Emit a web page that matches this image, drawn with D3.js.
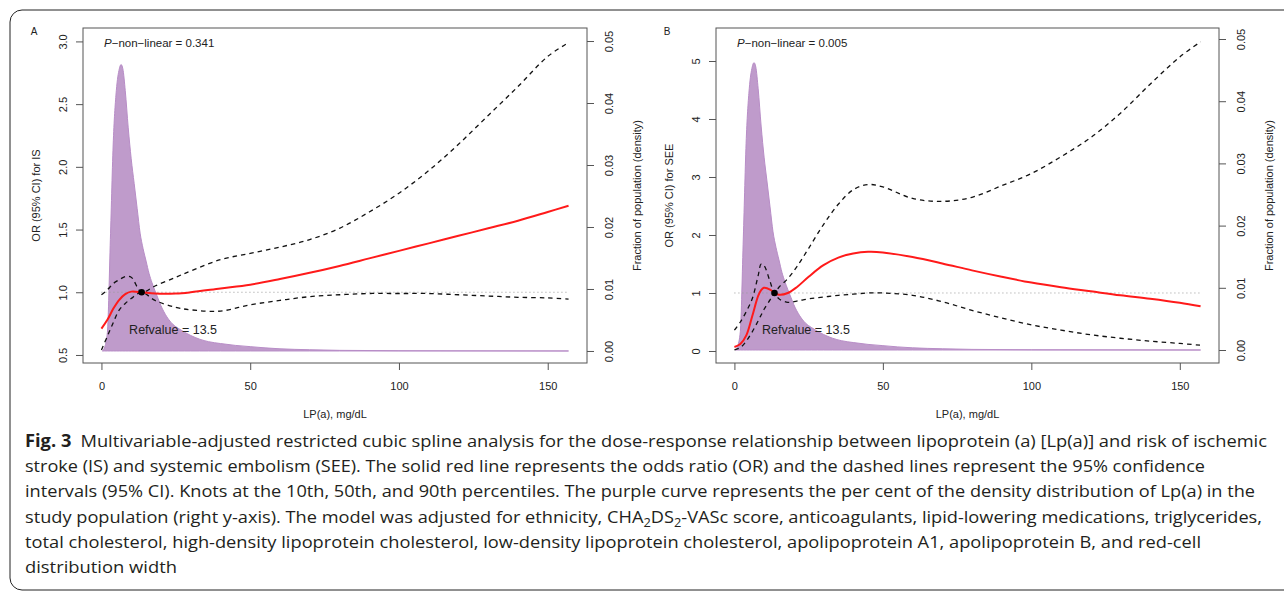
<!DOCTYPE html>
<html lang="en">
<head>
<meta charset="UTF-8" />
<title>Fig. 3 Lp(a) restricted cubic spline</title>
<style>
  body { margin: 0; background: #fff; }
  svg text { font-family: "Liberation Sans", Arial, sans-serif; fill: #222; }
  .caption text { font-family: "Open Sans", "Noto Sans", sans-serif; fill: #231f20; }
</style>
</head>
<body>
<svg width="1284" height="592"></svg>
<script src="https://cdn.jsdelivr.net/npm/d3@7"></script>
<script>
// ---- data ----
const lpaTicks = [0, 50, 100, 150];

// density of Lp(a) in the study population (same for both panels)
const densX = [0.3, 1, 2, 3, 4, 5, 6, 6.6, 7.2, 8, 9, 10, 11, 12, 13, 14, 15, 16, 17, 18, 19, 20,
  22, 24, 26, 28, 30, 33, 36, 40, 45, 50, 55, 60, 70, 80, 100, 157];
const densY = [0, 0.0005, 0.003, 0.018, 0.034, 0.042, 0.0455, 0.0462, 0.0455, 0.042, 0.036, 0.031,
  0.027, 0.023, 0.019, 0.0165, 0.0145, 0.0125, 0.011, 0.0097, 0.0085, 0.0073, 0.0055, 0.0043,
  0.0036, 0.003, 0.0025, 0.0019, 0.0015, 0.0012, 0.0009, 0.0007, 0.0005, 0.00035, 0.0002,
  0.0001, 0.00004, 0];

// panel A: ischemic stroke
const isX = [0, 2, 4, 6, 8, 10, 13.5, 18, 25, 30, 40, 50, 60, 70, 80, 90, 100, 110, 120, 130, 140, 150, 157];
const isOR = [0.71, 0.78, 0.87, 0.94, 0.985, 1.005, 1.0, 0.99, 0.99, 1.0, 1.03, 1.06, 1.105, 1.155, 1.21,
  1.27, 1.33, 1.39, 1.45, 1.51, 1.57, 1.64, 1.69];
const isUpper = [0.98, 1.02, 1.07, 1.1, 1.125, 1.12, 1.0, 1.05, 1.12, 1.17, 1.26, 1.31, 1.36, 1.42,
  1.51, 1.64, 1.79, 1.97, 2.18, 2.41, 2.64, 2.88, 2.99];
const isLower = [0.54, 0.65, 0.76, 0.86, 0.91, 0.95, 1.0, 0.935, 0.88, 0.86, 0.85, 0.9, 0.935, 0.965,
  0.98, 0.99, 0.99, 0.99, 0.98, 0.97, 0.96, 0.955, 0.945];

// panel B: systemic embolism
const seeX = [0, 2, 4, 6, 8, 9, 10, 12, 13.5, 15, 18, 21, 25, 30, 35, 40, 45, 50, 60, 70, 80, 90, 100,
  110, 120, 130, 140, 150, 157];
const seeOR = [0.07, 0.12, 0.27, 0.6, 0.95, 1.05, 1.09, 1.06, 1.0, 0.97, 1.0, 1.1, 1.28, 1.48, 1.61,
  1.68, 1.71, 1.7, 1.62, 1.51, 1.39, 1.28, 1.18, 1.1, 1.03, 0.96, 0.9, 0.83, 0.77];
const seeUpper = [0.36, 0.5, 0.68, 0.9, 1.3, 1.5, 1.47, 1.2, 1.0, 1.1, 1.25, 1.45, 1.77, 2.18, 2.53,
  2.78, 2.87, 2.83, 2.63, 2.58, 2.65, 2.85, 3.06, 3.35, 3.68, 4.1, 4.6, 5.07, 5.33];
const seeLower = [0.02, 0.06, 0.17, 0.33, 0.52, 0.62, 0.72, 0.88, 1.0, 0.9, 0.84, 0.86, 0.9, 0.93,
  0.96, 0.98, 1.0, 1.0, 0.96, 0.85, 0.7, 0.57, 0.45, 0.36, 0.28, 0.22, 0.17, 0.13, 0.1];

const orTicksA = [0.5, 1.0, 1.5, 2.0, 2.5, 3.0];
const orTicksB = [0, 1, 2, 3, 4, 5];
const densTicks = [0, 0.01, 0.02, 0.03, 0.04, 0.05];
const refValue = 13.5;

const svg = d3.select("svg");

// outer frame (rounded, right side runs off the page)
svg.append("rect")
  .attr("x", 10).attr("y", 10).attr("width", 1320).attr("height", 580)
  .attr("rx", 12).attr("fill", "none").attr("stroke", "#222").attr("stroke-width", 1);

function zip(xs, ys) { return xs.map((v, i) => [v, ys[i]]); }

function drawPanel(p) {
  const top = 28, bottom = 363;
  const g = svg.append("g");
  const x = d3.scaleLinear().domain([-6.2, 163.2]).range([p.left, p.right]);
  const yL = d3.scaleLinear().domain(p.orDomain).range([bottom, top]);
  const yR = d3.scaleLinear().domain(p.densDomain).range([bottom, top]);

  // density area
  const area = d3.area()
    .x(d => x(d[0])).y0(yR(0)).y1(d => yR(d[1]))
    .curve(d3.curveMonotoneX);
  g.append("path")
    .datum(zip(densX, densY))
    .attr("d", area)
    .attr("fill", "#bf9bcb")
    .attr("stroke", "#b88dc7")
    .attr("stroke-width", 1);

  // reference line at OR = 1
  g.append("line")
    .attr("x1", x(0)).attr("x2", x(157))
    .attr("y1", yL(1)).attr("y2", yL(1))
    .attr("stroke", "#999").attr("stroke-dasharray", "1,3");

  const line = d3.line().x(d => x(d[0])).y(d => yL(d[1])).curve(d3.curveCatmullRom.alpha(0.5));

  [p.upper, p.lower].forEach(ci => {
    g.append("path")
      .datum(zip(p.xs, ci))
      .attr("d", line)
      .attr("fill", "none")
      .attr("stroke", "#111")
      .attr("stroke-width", 1.3)
      .attr("stroke-dasharray", "4.5,4");
  });

  g.append("path")
    .datum(zip(p.xs, p.or))
    .attr("d", line)
    .attr("fill", "none")
    .attr("stroke", "#ff1a1a")
    .attr("stroke-width", 2);

  g.append("circle")
    .attr("cx", x(refValue)).attr("cy", yL(1)).attr("r", 3.3)
    .attr("fill", "#000");

  // box
  g.append("rect")
    .attr("x", p.left).attr("y", top)
    .attr("width", p.right - p.left).attr("height", bottom - top)
    .attr("fill", "none").attr("stroke", "#555").attr("stroke-width", 1);

  // axes
  const ax = g.append("g").attr("transform", `translate(0,${bottom})`)
    .call(d3.axisBottom(x).tickValues(lpaTicks).tickSize(7).tickPadding(12));
  const axL = g.append("g").attr("transform", `translate(${p.left},0)`)
    .call(d3.axisLeft(yL).tickValues(p.orTicks).tickSize(7).tickFormat(p.orFormat));
  const axR = g.append("g").attr("transform", `translate(${p.right},0)`)
    .call(d3.axisRight(yR).tickValues(densTicks).tickSize(7).tickFormat(d3.format(".2f")));

  [ax, axL, axR].forEach(a => {
    a.select(".domain").remove();
    a.selectAll(".tick line").attr("stroke", "#555");
    a.selectAll("text").attr("fill", "#222")
      .style("font-family", '"Liberation Sans", Arial, sans-serif').style("font-size", "11px");
  });
  axL.selectAll(".tick text")
    .attr("transform", "rotate(-90)").attr("x", 0).attr("y", -16).attr("dy", 0)
    .style("text-anchor", "middle");
  axR.selectAll(".tick text")
    .attr("transform", "rotate(-90)").attr("x", 0).attr("y", 26).attr("dy", 0)
    .style("text-anchor", "middle");

  // titles
  g.append("text")
    .attr("transform", `translate(${p.left - 43.5},${(top + bottom) / 2}) rotate(-90)`)
    .attr("text-anchor", "middle").style("font-size", "11px")
    .text(p.yTitle);
  g.append("text")
    .attr("transform", `translate(${p.right + 54},${(top + bottom) / 2}) rotate(-90)`)
    .attr("text-anchor", "middle").style("font-size", "11px")
    .text("Fraction of population (density)");
  g.append("text")
    .attr("x", (p.left + p.right) / 2).attr("y", 418)
    .attr("text-anchor", "middle").style("font-size", "11px")
    .text("LP(a), mg/dL");

  g.append("text")
    .attr("x", p.left - 49).attr("y", 35)
    .attr("text-anchor", "middle").style("font-size", "10px")
    .text(p.letter);

  const pt = g.append("text")
    .attr("x", p.left + 21).attr("y", 46.5).style("font-size", "11.5px");
  pt.append("tspan").style("font-style", "italic").text("P");
  pt.append("tspan").text("\u2212non\u2212linear = " + p.pval);

  g.append("text")
    .attr("x", x(refValue) - 12.5).attr("y", 334).style("font-size", "12.5px")
    .text("Refvalue = " + refValue);
}

drawPanel({
  letter: "A", left: 83, right: 587,
  orDomain: [0.436, 3.107], densDomain: [-0.00194, 0.0521],
  orTicks: orTicksA, orFormat: d3.format(".1f"),
  xs: isX, or: isOR, upper: isUpper, lower: isLower,
  yTitle: "OR (95% CI) for IS", pval: "0.341"
});
drawPanel({
  letter: "B", left: 716, right: 1219,
  orDomain: [-0.207, 5.569], densDomain: [-0.00209, 0.05177],
  orTicks: orTicksB, orFormat: d3.format("d"),
  xs: seeX, or: seeOR, upper: seeUpper, lower: seeLower,
  yTitle: "OR (95% CI) for SEE", pval: "0.005"
});

// ---- caption ----
const captionLines = [
  [{ t: "Fig. 3", b: true }, { t: "\u2002Multivariable-adjusted restricted cubic spline analysis for the dose-response relationship between lipoprotein (a) [Lp(a)] and risk of ischemic" }],
  [{ t: "stroke (IS) and systemic embolism (SEE). The solid red line represents the odds ratio (OR) and the dashed lines represent the 95% confidence" }],
  [{ t: "intervals (95% CI). Knots at the 10th, 50th, and 90th percentiles. The purple curve represents the per cent of the density distribution of Lp(a) in the" }],
  [{ t: "study population (right y-axis). The model was adjusted for ethnicity, CHA" }, { t: "2", sub: true }, { t: "DS" }, { t: "2", sub: true },
   { t: "-VASc score, anticoagulants, lipid-lowering medications, triglycerides," }],
  [{ t: "total cholesterol, high-density lipoprotein cholesterol, low-density lipoprotein cholesterol, apolipoprotein A1, apolipoprotein B, and red-cell" }],
  [{ t: "distribution width" }]
];
const lineEnds = [1267, 1205, 1255, 1262, 1201, 177];

const cap = svg.append("g").attr("class", "caption");
captionLines.forEach((segs, i) => {
  const t = cap.append("text")
    .attr("x", 25).attr("y", 447 + i * 25.2)
    .style("font-size", "17px")
    .attr("textLength", lineEnds[i] - 25)
    .attr("lengthAdjust", "spacingAndGlyphs");
  let shifted = false;
  segs.forEach(s => {
    const ts = t.append("tspan").text(s.t);
    if (s.b) ts.style("font-weight", "bold");
    if (s.sub) { ts.attr("dy", 4).style("font-size", "12px"); shifted = true; }
    else if (shifted) { ts.attr("dy", -4); shifted = false; }
  });
});
</script>
</body>
</html>
